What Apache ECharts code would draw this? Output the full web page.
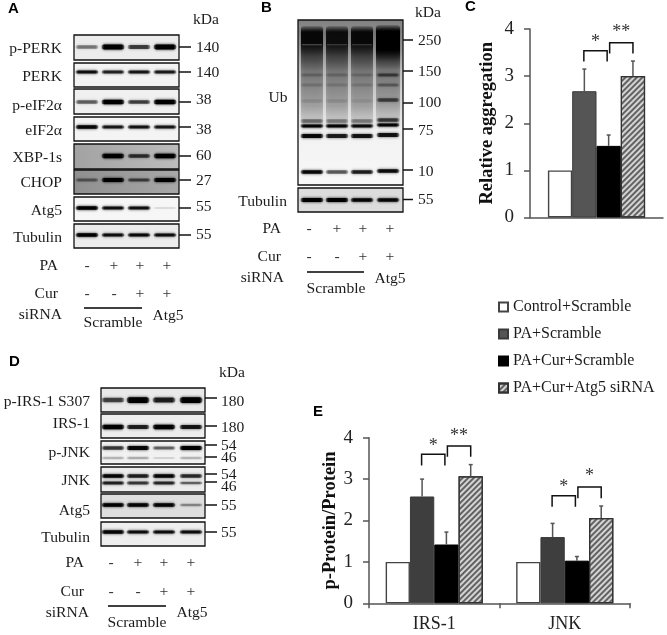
<!DOCTYPE html>
<html><head><meta charset="utf-8">
<style>html,body{margin:0;padding:0;background:#fff}#c{width:667px;height:635px}</style>
<script src="https://cdn.jsdelivr.net/npm/echarts@6/dist/echarts.min.js"></script>
</head><body><div id="c"></div>
<script>
// ---------- Data ----------
const groupNames = ['Control+Scramble','PA+Scramble','PA+Cur+Scramble','PA+Cur+Atg5 siRNA'];
const aggregationValues = [1, 2.68, 1.52, 3.0];
const aggregationErrTops = [null, 3.15, 1.75, 3.32];
const proteinCategories = ['IRS-1','JNK'];
const controlValues = [1, 1];
const paValues = [2.58, 1.6];
const paCurValues = [1.42, 1.03];
const paCurAtg5Values = [3.07, 2.06];
const paErrTops = [3.0, 1.93];
const paCurErrTops = [1.72, 1.13];
const paCurAtg5ErrTops = [3.35, 2.35];
// [category, from bar, to bar, top value, foot value, stars, star value]
const aggregationBrackets = [[0,1,2,3.54,3.31,'*',3.72],[0,2,3,3.71,3.48,'**',3.93]];
const proteinBrackets = [[0,1,2,3.6,3.33,'*',3.8],[0,2,3,3.8,3.54,'**',4.04],[1,1,2,2.6,2.33,'*',2.8],[1,2,3,2.81,2.54,'*',3.08]];
// Western-blot band strengths per lane (0-1)
const pPERK = [.42,1,.62,.95], PERK = [.85,.75,.8,.78];
const pEIF2a = [.5,.95,.62,.95], eIF2a = [.9,.8,.82,.8];
const XBP1s = [0,.95,.65,.95], CHOP = [.4,.95,.55,1];
const atg5A = [.95,.85,.85,.1], tubulinA = [.95,.85,.88,.85];
const ubSmear = [.92,.88,.92,1], ubPale = [.22,.16,.16,0], tubulinB = [1,.95,.9,.88];
const ubBand75 = [.2,.18,.16,.5], ubBand85 = [.16,.14,.14,.32], ubBand100 = [.1,.1,.08,.55];
const ubBand118 = [.42,.36,.36,.65], ubBand126 = [.95,.95,.9,.95], ubBand136 = [.92,.8,.85,.85], ubBand172 = [.92,.55,.8,.9];
const pIRS = [.6,1,.75,1], IRS1 = [.95,.75,.95,.8];
const pJNK54 = [.65,.9,.5,1], pJNK46 = [.22,.25,.12,.22];
const JNK54 = [.9,.75,.9,.7], JNK46 = [.75,.65,.72,.5];
const atg5D = [.95,.92,.92,.35], tubulinD = [.9,.85,.85,.85];
const kDaA = ['140','140','38','38','60','27','55','55'];
const kDaB = ['250','150','100','75','10','55'];
const kDaD = ['180','180','54','46','54','46','55','55'];
const panelA = ['p-PERK','PERK','p-eIF2\u03b1','eIF2\u03b1','XBP-1s','CHOP','Atg5','Tubulin'];
const panelD = ['p-IRS-1 S307','IRS-1','p-JNK','JNK','Atg5','Tubulin'];
const signsPA = ['-','+','+','+'], signsCur = ['-','-','+','+'];

// ---------- Layout ----------
const SERIF = '"Liberation Serif","Times New Roman",serif';
const SANS = '"Liberation Sans",Arial,sans-serif';
const g = [];
const txt = (s,x,y,opt={}) => g.push({type:'text',silent:true,x,y,z:20,style:{text:s,fill:opt.fill||'#1c1c1c',
  font:(opt.weight||'normal')+' '+(opt.size||15.6)+'px '+(opt.family||SERIF),
  textAlign:opt.align||'left',textVerticalAlign:'middle',textBaseline:'middle'}});
const line = (x1,y1,x2,y2,w=1.5,c='#111') => g.push({type:'line',silent:true,z:15,shape:{x1,y1,x2,y2},style:{stroke:c,lineWidth:w}});
function panel(x,y,w,h,fill){
  g.push({type:'rect',silent:true,z:5,shape:{x,y,width:w,height:h},style:{fill}});
  g.push({type:'rect',silent:true,z:12,shape:{x,y,width:w,height:h},style:{fill:'none',stroke:'#111',lineWidth:1.3}});
}
function band(cx,cy,w,h,a,blur=3){
  if(a<=0) return;
  const c=o=>'rgba(0,0,0,'+o+')';
  g.push({type:'rect',silent:true,z:8,shape:{x:cx-w/2,y:cy-h/2,width:w,height:h,r:h/2},
    style:{fill:{type:'linear',x:0,y:0,x2:1,y2:0,colorStops:[{offset:0,color:c(a*.35)},{offset:.14,color:c(a)},{offset:.86,color:c(a)},{offset:1,color:c(a*.35)}]},
      shadowBlur:blur,shadowColor:c(a*.9)}});
}
function blot(p){
  panel(p.x,p.y,p.w,p.h,p.bg);
  p.rows.forEach(r=>r.vals.forEach((v,i)=>band(p.lanes[i],r.y,p.bw,r.h*(.55+.6*v),Math.min(1,v*1.05),3)));
}
// Panel A
const lanesA=[87,113,139,165];
[[35,25,47,'#ececec',pPERK,4.4],[63,24,72,'#f3f3f3',PERK,3],[89,25,102,'#f0f0f0',pEIF2a,4],[117,24,127,'#f4f4f4',eIF2a,3],
 [144,25,156,{type:'linear',x:0,y:0,x2:1,y2:0,colorStops:[{offset:0,color:'#a2a2a2'},{offset:1,color:'#bcbcbc'}]},XBP1s,3.8],
 [170,24,180,{type:'linear',x:0,y:0,x2:1,y2:0,colorStops:[{offset:0,color:'#8f8f8f'},{offset:1,color:'#a8a8a8'}]},CHOP,3.6],
 [197,24,208,'#f6f6f6',atg5A,3],[224,24,235,'#ececec',tubulinA,3]].forEach(b=>{
  blot({x:74,y:b[0],w:105,h:b[1],bg:b[3],lanes:lanesA,bw:23,rows:[{y:b[2],h:b[5],vals:b[4]}]});
  line(179,b[2],191,b[2]);
});
const labelYA=[49,77,106,131,158,183,211,238], kYA=[48,73,100,130,156,181,207,235];
panelA.forEach((s,i)=>{txt(s,62,labelYA[i],{align:'right'});txt(kDaA[i],196,kYA[i]);});
txt('kDa',206,20,{align:'center'}); txt('A',8,9,{family:SANS,weight:'bold',size:15,fill:'#000'});
function treatment(lanes,xr,xs,yPA,yCur,ySi,yLine,lx,scrX,scrY,atgX,atgY){
  txt('PA',xr,yPA,{align:'right'});txt('Cur',xr,yCur,{align:'right'});txt('siRNA',xs,ySi,{align:'right'});
  signsPA.forEach((s,i)=>txt(s,lanes[i],yPA,{align:'center',fill:'#333'}));
  signsCur.forEach((s,i)=>txt(s,lanes[i],yCur,{align:'center',fill:'#333'}));
  line(lx[0],yLine,lx[1],yLine,1.6,'#000');
  txt('Scramble',scrX,scrY,{align:'center'});txt('Atg5',atgX,atgY,{align:'center'});
}
treatment([87,114,140,167],58,62,266,294,315,308,[84,142],113,323,168,316);
// Panel B
const lanesB=[312,337,362,388];
panel(298,20,105,165,{type:'linear',x:0,y:0,x2:0,y2:1,colorStops:[{offset:0,color:'#808080'},{offset:.1,color:'#999'},{offset:.3,color:'#c6c6c6'},{offset:.55,color:'#e6e6e6'},{offset:.7,color:'#f2f2f2'},{offset:1,color:'#f8f8f8'}]});
ubSmear.forEach((a,i)=>{
  const extra=i===3?1:0;
  const c=o=>'rgba(0,0,0,'+o+')';
  g.push({type:'rect',silent:true,z:7,shape:{x:lanesB[i]-11-extra,y:26-extra,width:22+2*extra,height:100,r:3},
   style:{fill:{type:'linear',x:0,y:0,x2:0,y2:1,colorStops:[{offset:0,color:c(.15)},{offset:.06,color:c(a)},{offset:.17+.08*extra,color:c(a)},{offset:.3+.06*extra,color:c(.55)},{offset:.45,color:c(.32)},{offset:.8,color:c(.22)},{offset:1,color:c(.06)}]},shadowBlur:4,shadowColor:c(.45)}});
});
ubPale.forEach((v,i)=>{ if(v>0) g.push({type:'rect',silent:true,z:7.5,shape:{x:lanesB[i]-10,y:44,width:20,height:1.4},style:{fill:'rgba(255,255,255,'+v+')'}}); });
[[75,3,ubBand75],[85,3,ubBand85],[101,3.5,ubBand100],[121,3.4,ubBand118],[126,2.8,ubBand126],[136,3.8,ubBand136],[172,3.4,ubBand172]].forEach(r=>
  r[2].forEach((v,i)=>band(lanesB[i],r[0]-(i===3&&r[0]>100?1:0),23,r[1],v,3)));
blot({x:298,y:188,w:105,h:24,bg:'#dcdcdc',lanes:lanesB,bw:23,rows:[{y:200,h:3.4,vals:tubulinB}]});
[[40,41],[71,72],[103,103],[129,131],[170,172],[199.5,200]].forEach((t,i)=>{line(403,t[0],413,t[0]);txt(kDaB[i],418,t[1]);});
txt('kDa',428,13,{align:'center'});txt('B',261,8,{family:SANS,weight:'bold',size:15,fill:'#000'});
txt('Ub',278,98,{align:'center'});txt('Tubulin',287,202,{align:'right'});
treatment([309,337,363,390],281,284,229,257,278,272,[307,364],336,289,390,279);
// Panel D
const lanesD=[113,138,164,191];
[[388,24,'#e9e9e9',[[400,5,pIRS]]],[414,24,'#ededed',[[427,3.8,IRS1]]],[441,23,'#f1f1f1',[[448,3.6,pJNK54],[458,3.6,pJNK46]]],
 [467,25,'#ececec',[[476,3.4,JNK54],[483,3,JNK46]]],[494,24,'#dedede',[[505,3,atg5D]]],[522,24,'#eeeeee',[[532,3,tubulinD]]]].forEach(b=>{
  blot({x:101,y:b[0],w:104,h:b[1],bg:b[2],lanes:lanesD,bw:23,rows:b[3].map(r=>({y:r[0],h:r[1],vals:r[2]}))});
});
[[398,402],[426,428],[445,446],[457,458],[474,475],[482,487],[505,506],[532,533]].forEach((t,i)=>{line(205,t[0],217,t[0]);txt(kDaD[i],221,t[1]);});
const labelYD=[402,424,453,481,511,538];
panelD.forEach((s,i)=>txt(s,90,labelYD[i],{align:'right'}));
txt('kDa',232,373,{align:'center'});txt('D',9,362,{family:SANS,weight:'bold',size:15,fill:'#000'});
treatment([111,138,164,191],84,89,563,592,613,606,[108,166],137,623,192,613);
txt('C',465,7,{family:SANS,weight:'bold',size:15,fill:'#000'});
txt('E',313,412,{family:SANS,weight:'bold',size:15,fill:'#000'});

// ---------- Charts ----------
const AX='#555', barW=24.3;
const decal={symbol:'rect',symbolSize:1,rotation:-Math.PI/4,dashArrayX:[1,0],dashArrayY:[1.4,1.6],color:'rgba(70,70,70,.8)'};
const styleFor=(idx,i)=>[
 {color:'#fff',borderColor:'#444',borderWidth:1.4},
 {color:idx===0?'#555':'#3e3e3e',borderColor:'#3a3a3a',borderWidth:1},
 {color:'#000',borderColor:'#000',borderWidth:1},
 {color:'#d4d4d4',borderColor:'#333',borderWidth:1.2,decal}
][i];
const yAxis=(idx,name,gap)=>({gridIndex:idx,type:'value',min:0,max:4,interval:1,name,nameLocation:'middle',nameGap:gap,nameRotate:90,
  nameTextStyle:{fontFamily:SERIF,fontWeight:'bold',fontSize:18.5,color:'#111'},
  axisLine:{show:true,lineStyle:{color:AX,width:1.5}},axisTick:{show:true,length:6,lineStyle:{color:AX,width:1.5}},
  axisLabel:{fontFamily:SERIF,fontSize:19,color:'#222',margin:16,padding:[3,0,0,0]},splitLine:{show:false}});
const xBase={type:'category',axisLine:{lineStyle:{color:AX,width:1.5}}};
const errRender=(p,api)=>{
  const c=api.coord([api.value(0),api.value(3)]);
  const x=c[0]+(api.value(1)-1.5)*barW, b=api.coord([api.value(0),api.value(2)])[1];
  const st={stroke:AX,lineWidth:1.5};
  return {type:'group',children:[
   {type:'line',shape:{x1:x,y1:b,x2:x,y2:c[1]},style:st},
   {type:'line',shape:{x1:x-2,y1:c[1],x2:x+2,y2:c[1]},style:st}]};
};
const brRender=(p,api)=>{
  const c0=api.coord([api.value(0),0])[0];
  const x1=c0+(api.value(1)-1.5)*barW-.5+(api.value(1)===2?1.5:0), x2=c0+(api.value(2)-1.5)*barW-1.5+(api.value(1)===2?1.5:0);
  const t=api.coord([0,api.value(3)])[1], f=api.coord([0,api.value(4)])[1], sy=api.coord([0,api.value(6)])[1];
  return {type:'group',children:[
   {type:'polyline',shape:{points:[[x1,f],[x1,t],[x2,t],[x2,f]]},style:{stroke:'#111',lineWidth:1.5,fill:'none'}},
   {type:'text',x:(x1+x2)/2,y:sy,style:{text:api.value(5),font:'18px '+SERIF,fill:'#333',textAlign:'center',textVerticalAlign:'middle'}}]};
};
const errData=(tops,vals,bar)=>tops.map((t,i)=>t==null?null:[i,bar,vals[i],t]).filter(Boolean);
const custom=(idx,data,render,dims)=>({type:'custom',xAxisIndex:idx,yAxisIndex:idx,z:6,silent:true,renderItem:render,data,encode:{x:0,y:dims},clip:false,tooltip:{show:false}});
const barS=(idx,i,data)=>({type:'bar',name:groupNames[i],xAxisIndex:idx,yAxisIndex:idx,data,barWidth:barW,barGap:0,itemStyle:styleFor(idx,i),silent:true,animation:false});
const eSeries=[controlValues,paValues,paCurValues,paCurAtg5Values];
const eTops=[null,paErrTops,paCurErrTops,paCurAtg5ErrTops];
const series=[];
aggregationValues.forEach((v,i)=>series.push(barS(0,i,[v])));
eSeries.forEach((d,i)=>series.push(barS(1,i,d)));
[1,2,3].forEach(b=>{
  series.push(custom(0,errData([aggregationErrTops[b]],[aggregationValues[b]],b),errRender,[3]));
  series.push(custom(1,errData(eTops[b],eSeries[b],b),errRender,[3]));
});
series.push(custom(0,aggregationBrackets,brRender,[3]));
series.push(custom(1,proteinBrackets,brRender,[3]));
const chart=echarts.init(document.getElementById('c'),null,{renderer:'canvas'});
chart.setOption({
  animation:false,backgroundColor:'#fff',aria:{enabled:false},
  grid:[{left:530,top:29,width:133,height:188.5},{left:369,top:437.7,width:261,height:165.6}],
  xAxis:[{...xBase,gridIndex:0,data:[''],axisTick:{show:false},axisLabel:{show:false}},
         {...xBase,gridIndex:1,data:proteinCategories,axisTick:{show:true,length:5,lineStyle:{color:AX,width:1.5}},
          axisLabel:{fontFamily:SERIF,fontSize:18,color:'#222',margin:12}}],
  yAxis:[yAxis(0,'Relative aggregation',33),yAxis(1,'p-Protein/Protein',28)],
  legend:{orient:'vertical',left:493,top:294,icon:'rect',itemWidth:9,itemHeight:9,itemGap:11,data:groupNames,selectedMode:false,
    textStyle:{fontFamily:SERIF,fontSize:16,color:'#1c1c1c'}},
  series,
  graphic:g
});
</script></body></html>
